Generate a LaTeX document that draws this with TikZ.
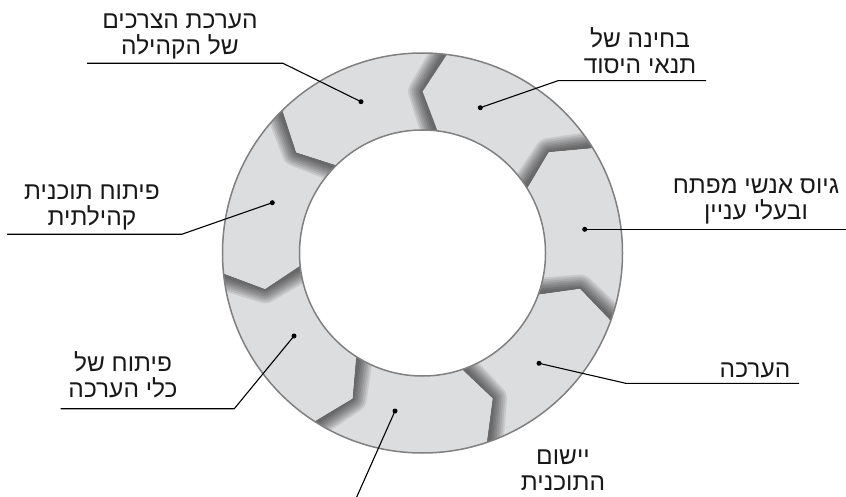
\documentclass[tikz,border=0pt]{standalone}
\usepackage{fontspec}
\setmainfont{Liberation Sans}
\newfontfamily\hebfont[Script=Hebrew]{Liberation Sans}
\TeXXeTstate=1
\usetikzlibrary{calc}
\definecolor{RingGray}{RGB}{220,221,223}
\definecolor{RimGray}{RGB}{128,128,128}
\definecolor{InkBlack}{RGB}{24,24,24}
\newcommand{\rl}[1]{\beginR #1\endR}

\begin{document}
\begin{tikzpicture}[x=1pt,y=-1pt,
  lbl/.style={font=\hebfont\fontsize{24.5}{26}\selectfont,text=InkBlack,align=center,inner sep=0pt},
  dot/.style={circle,fill=black,inner sep=0pt,minimum size=5pt},
  lead/.style={draw=black,line width=1.1pt}]
\useasboundingbox (0,0) rectangle (846,497);
\coordinate (O) at (422.5,253);
% ring of seven chevron pieces, each with a soft shadow in its notch
\foreach \k in {0,...,6}{
  \pgfmathsetmacro{\A}{-83+51.4286*\k}
  \pgfmathsetmacro{\B}{\A+51.4286}
  \def\piece{($(O)+(\A:200)$) arc[start angle=\A,end angle=\B,radius=200]
      -- ($(O)+(\B-7:161.5)$) -- ($(O)+(\B:123)$) arc[start angle=\B,end angle=\A,radius=123]
      -- ($(O)+(\A-7:161.5)$) -- cycle}
  \begin{scope}
    \fill[RingGray] \piece;
    \clip \piece;
    \foreach \w in {2,4,...,16}
      \draw[line width=1.8*\w,black,opacity=0.085,line join=round]
        ($(O)+(\B:206)$) -- ($(O)+(\B-7:161.5)$) -- ($(O)+(\B:117)$);
  \end{scope}
}
\draw[RimGray,line width=1.5pt] (O) circle[radius=200] (O) circle[radius=123];
% leaders
\node[dot] (d1) at (361,101.7) {};
\coordinate (b1) at (283,63.3); \coordinate (e1) at (87,63.3);
\draw[lead] (d1.center) -- (b1) -- (e1);
\node[dot] (d2) at (480.3,107.7) {};
\coordinate (b2) at (558,80.7); \coordinate (e2) at (706,80.7);
\draw[lead] (d2.center) -- (b2) -- (e2);
\node[dot] (d3) at (584.7,229.3) {};
\coordinate (e3) at (846,229.3);
\draw[lead] (d3.center) -- (e3);
\node[dot] (d4) at (539,363.3) {};
\coordinate (b4) at (625.7,383.3); \coordinate (e4) at (799,383.3);
\draw[lead] (d4.center) -- (b4) -- (e4);
\node[dot] (d5) at (395,411) {};
\coordinate (e5) at (356.7,497);
\draw[lead] (d5.center) -- (e5);
\node[dot] (d6) at (294,336) {};
\coordinate (b6) at (234.3,408.7); \coordinate (e6) at (60.7,408.7);
\draw[lead] (d6.center) -- (b6) -- (e6);
\node[dot] (d7) at (272.3,202.7) {};
\coordinate (b7) at (181.7,234.3); \coordinate (e7) at (7,234.3);
\draw[lead] (d7.center) -- (b7) -- (e7);
% labels
\node[lbl] (t1) at (180,36) {\rl{הערכת הצרכים}\\\rl{של הקהילה}};
\node[lbl] (t2) at (640,51) {\rl{בחינה של}\\\rl{תנאי היסוד}};
\node[lbl] (t3) at (756,201) {\rl{גיוס אנשי מפתח}\\\rl{ובעלי עניין}};
\node[lbl] (t4) at (755,370) {\rl{הערכה}};
\node[lbl] (t5) at (563,470) {\rl{יישום}\\\rl{התוכנית}};
\node[lbl] (t6) at (123,375) {\rl{פיתוח של}\\\rl{כלי הערכה}};
\node[lbl] (t7) at (92,207) {\rl{פיתוח תוכנית}\\\rl{קהילתית}};
\end{tikzpicture}
\end{document}
